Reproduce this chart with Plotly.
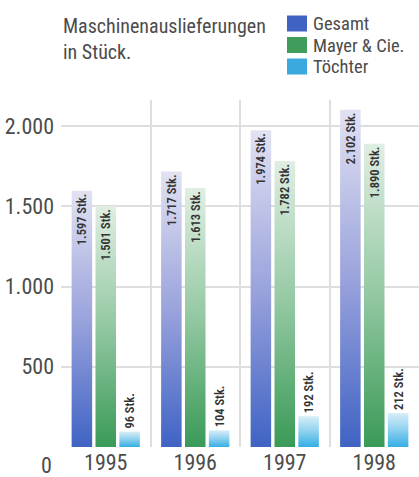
import plotly.graph_objects as go

# ---- data ----
years = ["1995", "1996", "1997", "1998"]
series_names = ["Gesamt", "Mayer & Cie.", "Töchter"]
gesamt = [1597, 1717, 1974, 2102]
mayer = [1501, 1613, 1782, 1890]
toechter = [96, 104, 192, 212]
y_ticks = [500, 1000, 1500, 2000]
title_text = "Maschinenauslieferungen<br>in Stück."
unit = "Stk."

# ---- style ----
FONT = "Roboto Condensed, Roboto, sans-serif"
solid = ["#4062c2", "#3f9c5a", "#3ba8e0"]
grad_top = ["#e2e2f2", "#e0eee3", "#d8eef8"]
grad_mid = ["#9aa3dc", "#93c8a2", "#8dd0ef"]
grad_bot = ["#3f63c4", "#3a9a57", "#35aee4"]
TXT = "#4c4c4c"

W, H = 419, 477
ML, MR, MT, MB = 61, 0, 100, 30
PW, PH = W - ML - MR, H - MT - MB
YMAX = 2162


def px_x(px):
    return (px - ML) / PW


def px_y(py):
    return (H - MB - py) / PH


def fmt(v):
    return f"{v:,}".replace(",", ".") + " " + unit


fig = go.Figure()
values = [gesamt, mayer, toechter]
for i, (name, vals) in enumerate(zip(series_names, values)):
    outside = i == 2
    fig.add_trace(go.Bar(
        x=years, y=vals, name=name,
        marker=dict(color=solid[i], line=dict(width=0)),
        text=[fmt(v) for v in vals],
        textposition="outside" if outside else "inside",
        insidetextanchor="end",
        textangle=-90,
        constraintext="none",
        cliponaxis=False,
        textfont=dict(family=FONT, size=12.5, color="#333333", weight=600),
        showlegend=False,
        hoverinfo="x+y+name",
    ))

# legend (squares + labels)
leg_y = [23.5, 45, 66.5]
for i, name in enumerate(series_names):
    fig.add_shape(type="rect", xref="paper", yref="paper",
                  x0=px_x(287), x1=px_x(307), y0=px_y(leg_y[i] + 8), y1=px_y(leg_y[i] - 8),
                  fillcolor=solid[i], line=dict(width=0))
    fig.add_annotation(xref="paper", yref="paper", x=px_x(311), y=px_y(leg_y[i]),
                       text=name, showarrow=False, xanchor="left", yanchor="middle",
                       height=19, valign="middle",
                       font=dict(family=FONT, size=18.5, color=TXT))

# title
fig.add_annotation(xref="paper", yref="paper", x=px_x(61), y=px_y(12),
                   text=title_text, showarrow=False, xanchor="left", yanchor="top",
                   align="left", font=dict(family=FONT, size=20, color=TXT))

# zero label placed on the year-label row
fig.add_annotation(xref="paper", yref="y", x=px_x(46), y=0, yshift=-18,
                   text="0", showarrow=False, xanchor="center", yanchor="middle",
                   height=20, valign="middle",
                   font=dict(family=FONT, size=22, color=TXT))

fig.update_layout(
    width=W, height=H,
    margin=dict(l=ML, r=MR, t=MT, b=MB, pad=0),
    paper_bgcolor="white", plot_bgcolor="white",
    barmode="group", bargap=0.2, bargroupgap=0.14,
    separators=",.",
    font=dict(family=FONT, color=TXT),
)
fig.update_xaxes(
    type="category", range=[-0.5, 3.5], tickson="boundaries", automargin=False,
    showgrid=True, gridcolor="#dedede", gridwidth=1.5,
    ticks="", showline=False, zeroline=False,
    tickfont=dict(family=FONT, size=22, color=TXT),
)
fig.update_yaxes(
    range=[0, YMAX], tickvals=y_ticks, tickformat=",d", automargin=False,
    showgrid=True, gridcolor="#dedede", gridwidth=1.5,
    zeroline=False, showline=False, ticks="", ticklabelstandoff=6,
    tickfont=dict(family=FONT, size=22, color=TXT),
)

js_stops = ",".join(
    "['{}','{}','{}']".format(grad_top[i], grad_mid[i], grad_bot[i]) for i in range(3)
)
post = """
document.body.style.margin = '0';
document.body.style.padding = '0';
document.body.style.overflow = 'hidden';
var gd = document.getElementById('{plot_id}');
var STOPS = [%s];
function applyGrad(){
  var svg = gd.querySelector('svg.main-svg');
  if(!svg) return;
  var defs = svg.querySelector('defs');
  if(!defs){ defs = document.createElementNS('http://www.w3.org/2000/svg','defs'); svg.insertBefore(defs, svg.firstChild); }
  STOPS.forEach(function(s, i){
    var id = 'bargrad' + i;
    if(document.getElementById(id)) return;
    var lg = document.createElementNS('http://www.w3.org/2000/svg','linearGradient');
    lg.setAttribute('id', id);
    lg.setAttribute('x1','0'); lg.setAttribute('y1','0');
    lg.setAttribute('x2','0'); lg.setAttribute('y2','1');
    [[0,s[0]],[0.5,s[1]],[1,s[2]]].forEach(function(st){
      var e = document.createElementNS('http://www.w3.org/2000/svg','stop');
      e.setAttribute('offset', st[0]);
      e.setAttribute('stop-color', st[1]);
      lg.appendChild(e);
    });
    defs.appendChild(lg);
  });
  var traces = gd.querySelectorAll('g.barlayer g.trace.bars');
  traces.forEach(function(t, i){
    t.querySelectorAll('g.point path').forEach(function(p){
      p.style.fill = 'url(#bargrad' + i + ')';
    });
  });
}
applyGrad();
if(gd.on){ gd.on('plotly_afterplot', applyGrad); }
""" % js_stops

fig.write_html("out.html", post_script=post, config={"displayModeBar": False})
